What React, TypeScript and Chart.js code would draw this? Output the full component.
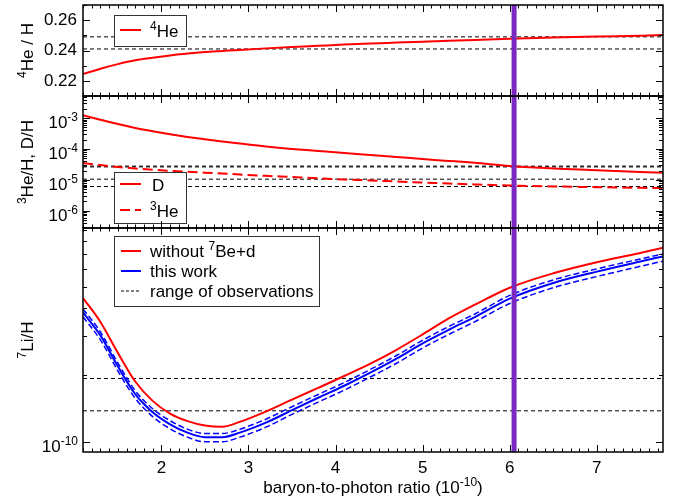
import { useEffect, useRef } from "react";
import { Chart, registerables } from "chart.js";

Chart.register(...registerables);

// ---------------- data ----------------
const ETA = [1.1, 1.3, 1.5, 1.7, 1.9, 2.1, 2.3, 2.5, 2.7, 2.9, 3.2, 3.5, 3.8, 4.1, 4.4, 4.7, 5.0, 5.3, 5.6, 6.0, 6.5, 7.0, 7.5, 7.76];

const HE4 = [0.2245, 0.228, 0.231, 0.2335, 0.2352, 0.2367, 0.238, 0.239, 0.2397, 0.2404, 0.2414, 0.2423, 0.2431, 0.2439, 0.2446, 0.2452, 0.2458, 0.2464, 0.247, 0.2477, 0.2485, 0.2492, 0.2498, 0.2502];

const D_H = [1.25e-3, 8.8e-4, 6.4e-4, 4.8e-4, 3.75e-4, 3.0e-4, 2.45e-4, 2.05e-4, 1.75e-4, 1.5e-4, 1.2e-4, 1.0e-4, 8.6e-5, 7.4e-5, 6.4e-5, 5.5e-5, 4.7e-5, 4.1e-5, 3.55e-5, 2.8e-5, 2.35e-5, 2.05e-5, 1.8e-5, 1.69e-5];

const HE3_H = [3.48e-5, 3.0e-5, 2.62e-5, 2.33e-5, 2.12e-5, 1.96e-5, 1.82e-5, 1.7e-5, 1.6e-5, 1.49e-5, 1.35e-5, 1.23e-5, 1.12e-5, 1.03e-5, 9.6e-6, 8.8e-6, 8.2e-6, 7.6e-6, 7.1e-6, 6.55e-6, 6.1e-6, 5.8e-6, 5.5e-6, 5.4e-6];

const LI7_NO_BED = [4.45e-10, 3.47e-10, 2.52e-10, 1.87e-10, 1.53e-10, 1.34e-10, 1.24e-10, 1.185e-10, 1.17e-10, 1.23e-10, 1.37e-10, 1.55e-10, 1.75e-10, 1.98e-10, 2.25e-10, 2.6e-10, 3.05e-10, 3.6e-10, 4.15e-10, 4.95e-10, 5.75e-10, 6.45e-10, 7.1e-10, 7.5e-10];

const LI7_THIS = [3.83e-10, 3.02e-10, 2.19e-10, 1.64e-10, 1.36e-10, 1.2e-10, 1.1e-10, 1.05e-10, 1.05e-10, 1.1e-10, 1.22e-10, 1.39e-10, 1.58e-10, 1.79e-10, 2.05e-10, 2.37e-10, 2.78e-10, 3.2e-10, 3.65e-10, 4.42e-10, 5.2e-10, 5.85e-10, 6.5e-10, 6.85e-10];

const LI7_UP = [3.97e-10, 3.13e-10, 2.27e-10, 1.7e-10, 1.41e-10, 1.245e-10, 1.14e-10, 1.09e-10, 1.09e-10, 1.14e-10, 1.265e-10, 1.44e-10, 1.635e-10, 1.85e-10, 2.12e-10, 2.45e-10, 2.87e-10, 3.31e-10, 3.77e-10, 4.57e-10, 5.37e-10, 6.02e-10, 6.67e-10, 7.02e-10];

const LI7_LO = [3.66e-10, 2.88e-10, 2.09e-10, 1.57e-10, 1.3e-10, 1.145e-10, 1.05e-10, 1.0e-10, 1.0e-10, 1.05e-10, 1.165e-10, 1.33e-10, 1.51e-10, 1.71e-10, 1.96e-10, 2.26e-10, 2.65e-10, 3.05e-10, 3.48e-10, 4.2e-10, 4.95e-10, 5.56e-10, 6.18e-10, 6.52e-10];

const HE4_OBS = [0.241, 0.249];
const DHE3_OBS = [2.62e-5, 2.78e-5, 1.05e-5, 6.07e-6];
const LI7_OBS = [1.38e-10, 1.93e-10];

const ETA_CMB = 6.05;
const X_MIN = 1.1;
const X_MAX = 7.76;
const X_TICKS = [2, 3, 4, 5, 6, 7];
const HE4_TICKS = [0.22, 0.24, 0.26];
const DHE3_TICKS = [1e-3, 1e-4, 1e-5, 1e-6];
const DHE3_EXP = ["-3", "-4", "-5", "-6"];
const LI7_TICKS = [1e-10];
const LI7_EXP = ["-10"];

// ---------------- style ----------------
const FONT = '"Liberation Sans", Arial, Helvetica, sans-serif';
const RED = "#ff0000";
const BLUE = "#0000ff";
const PURPLE = "#7a28c0";
const FS = 17;

type Part = { t: string; sup?: boolean };

function fontOf(size: number) {
  return `${size}px ${FONT}`;
}

function drawRich(ctx: CanvasRenderingContext2D, parts: Part[], x: number, baseline: number, size: number, align: "left" | "right" | "center") {
  const sup = Math.round(size * 0.68);
  let w = 0;
  for (const p of parts) {
    ctx.font = fontOf(p.sup ? sup : size);
    w += ctx.measureText(p.t).width;
  }
  let cx = align === "left" ? x : align === "right" ? x - w : x - w / 2;
  ctx.textAlign = "left";
  ctx.textBaseline = "alphabetic";
  ctx.fillStyle = "#000";
  for (const p of parts) {
    ctx.font = fontOf(p.sup ? sup : size);
    ctx.fillText(p.t, cx, p.sup ? baseline - size * 0.42 : baseline);
    cx += ctx.measureText(p.t).width;
  }
}

function curve(ys: number[], color: string, width: number, dash: number[] = []) {
  return {
    data: ETA.map((x, i) => ({ x, y: ys[i] })),
    borderColor: color,
    borderWidth: width,
    borderDash: dash,
    pointRadius: 0,
    fill: false,
    cubicInterpolationMode: "monotone" as const,
    clip: 0,
  };
}

function hline(v: number) {
  return {
    data: [{ x: X_MIN, y: v }, { x: X_MAX, y: v }],
    borderColor: "#000",
    borderWidth: 1,
    borderDash: [4, 3],
    pointRadius: 0,
    fill: false,
    tension: 0,
    clip: 0,
  };
}

function vline(y0: number, y1: number) {
  return {
    data: [{ x: ETA_CMB, y: y0 }, { x: ETA_CMB, y: y1 }],
    borderColor: PURPLE,
    borderWidth: 5,
    pointRadius: 0,
    fill: false,
    tension: 0,
    borderCapStyle: "butt" as const,
    clip: 0,
  };
}

type PanelCfg = {
  yTicks: { v: number; major: boolean }[];
  title: Part[];
  titleX: number;
  logLabels?: { v: number; exp: string }[];
  legend: (ctx: CanvasRenderingContext2D) => void;
  xTitle?: boolean;
};

function panelPlugin(cfg: PanelCfg) {
  return {
    id: "panel",
    afterDraw(chart: any) {
      const ctx: CanvasRenderingContext2D = chart.ctx;
      const a = chart.chartArea;
      const xs = chart.scales.x;
      const ys = chart.scales.y;
      ctx.save();
      // legend
      cfg.legend(ctx);
      // ticks
      ctx.strokeStyle = "#000";
      ctx.lineWidth = 1;
      ctx.setLineDash([]);
      ctx.beginPath();
      for (let k = 11; k <= 77; k++) {
        const v = k / 10;
        const px = Math.round(xs.getPixelForValue(v)) + 0.5;
        const len = k % 10 === 0 ? 7 : 3.5;
        ctx.moveTo(px, a.top);
        ctx.lineTo(px, a.top + len);
        ctx.moveTo(px, a.bottom);
        ctx.lineTo(px, a.bottom - len);
      }
      for (const t of cfg.yTicks) {
        const py = Math.round(ys.getPixelForValue(t.v)) + 0.5;
        if (py < a.top || py > a.bottom) continue;
        const len = t.major ? 7 : 4;
        ctx.moveTo(a.left, py);
        ctx.lineTo(a.left + len, py);
        ctx.moveTo(a.right, py);
        ctx.lineTo(a.right - len, py);
      }
      ctx.stroke();
      // frame
      ctx.lineWidth = 1.5;
      ctx.strokeRect(a.left, a.top, a.right - a.left, a.bottom - a.top);
      // log labels
      if (cfg.logLabels) {
        for (const l of cfg.logLabels) {
          const py = ys.getPixelForValue(l.v);
          drawRich(ctx, [{ t: "10" }, { t: l.exp, sup: true }], a.left - 5, py + 10, FS, "right");
        }
      }
      // y title
      ctx.save();
      ctx.translate(cfg.titleX, (a.top + a.bottom) / 2);
      ctx.rotate(-Math.PI / 2);
      drawRich(ctx, cfg.title, 0, FS * 0.36, FS, "center");
      ctx.restore();
      // x title
      if (cfg.xTitle) {
        drawRich(ctx, [{ t: "baryon-to-photon ratio (10" }, { t: "-10", sup: true }, { t: ")" }], (a.left + a.right) / 2, 493, FS, "center");
      }
      ctx.restore();
    },
  };
}

function legendBox(ctx: CanvasRenderingContext2D, x: number, y: number, w: number, h: number) {
  ctx.fillStyle = "#fff";
  ctx.fillRect(x, y, w, h);
  ctx.strokeStyle = "#333";
  ctx.lineWidth = 1;
  ctx.setLineDash([]);
  ctx.strokeRect(x + 0.5, y + 0.5, w, h);
}

function legendLine(ctx: CanvasRenderingContext2D, x0: number, x1: number, y: number, color: string, width: number, dash: number[]) {
  ctx.strokeStyle = color;
  ctx.lineWidth = width;
  ctx.setLineDash(dash);
  ctx.beginPath();
  ctx.moveTo(x0, y);
  ctx.lineTo(x1, y);
  ctx.stroke();
  ctx.setLineDash([]);
}

function xScale(display: boolean) {
  return {
    type: "linear" as const,
    min: X_MIN,
    max: X_MAX,
    display,
    grid: { display: false, drawTicks: false },
    border: { display: false },
    afterBuildTicks: (s: any) => {
      s.ticks = X_TICKS.map((v) => ({ value: v }));
    },
    afterFit: (s: any) => {
      s.height = display ? 49 : 0;
      s.paddingLeft = 0;
      s.paddingRight = 0;
      s.paddingTop = 0;
      s.paddingBottom = 0;
    },
    ticks: {
      font: { family: FONT, size: FS },
      color: "#000",
      padding: 6,
      maxRotation: 0,
      autoSkip: false,
      callback: (v: any) => String(v),
    },
  };
}

function yFit(s: any) {
  s.width = 83;
  s.paddingTop = 0;
  s.paddingBottom = 0;
  s.paddingLeft = 0;
  s.paddingRight = 0;
}

function baseOptions(pad: any, y: any, xDisplay: boolean) {
  return {
    responsive: false,
    maintainAspectRatio: false,
    animation: false as const,
    devicePixelRatio: 1,
    events: [] as any[],
    layout: { padding: pad },
    plugins: { legend: { display: false }, tooltip: { enabled: false } },
    scales: { x: xScale(xDisplay), y },
  };
}

function logTicks(lo: number, hi: number, dLo: number, dHi: number) {
  const out: { v: number; major: boolean }[] = [];
  for (let d = dLo; d <= dHi; d++) {
    for (let m = 1; m <= 9; m++) {
      const v = m * Math.pow(10, d);
      if (v >= lo && v <= hi) out.push({ v, major: m === 1 });
    }
  }
  return out;
}

function makeTop(canvas: HTMLCanvasElement) {
  const yMin = 0.21;
  const yMax = 0.27;
  const yTicks: { v: number; major: boolean }[] = [];
  for (let k = 21; k <= 27; k++) yTicks.push({ v: k / 100, major: k % 2 === 0 });
  return new Chart(canvas, {
    type: "line",
    data: {
      datasets: [vline(yMin, yMax), curve(HE4, RED, 2), ...HE4_OBS.map(hline)] as any,
    },
    options: baseOptions(
      { top: 5, bottom: 405, left: 0, right: 17 },
      {
        type: "linear",
        min: yMin,
        max: yMax,
        grid: { display: false, drawTicks: false },
        border: { display: false },
        afterBuildTicks: (s: any) => {
          s.ticks = HE4_TICKS.map((v) => ({ value: v }));
        },
        afterFit: yFit,
        ticks: {
          font: { family: FONT, size: FS },
          color: "#000",
          padding: 6,
          callback: (v: any) => Number(v).toFixed(2),
        },
      },
      false
    ) as any,
    plugins: [
      panelPlugin({
        yTicks,
        title: [{ t: "4", sup: true }, { t: "He / H" }],
        titleX: 27,
        legend: (ctx) => {
          legendBox(ctx, 114, 15, 72, 31);
          legendLine(ctx, 120, 141, 30, RED, 2, []);
          drawRich(ctx, [{ t: "4", sup: true }, { t: "He" }], 150, 37, FS, "left");
        },
      }),
    ],
  });
}

function makeMid(canvas: HTMLCanvasElement) {
  const yMin = 2.75e-7;
  const yMax = 5.2e-3;
  return new Chart(canvas, {
    type: "line",
    data: {
      datasets: [vline(yMin, yMax), curve(D_H, RED, 2), curve(HE3_H, RED, 2, [10, 5]), ...DHE3_OBS.map(hline)] as any,
    },
    options: baseOptions(
      { top: 96, bottom: 273, left: 0, right: 17 },
      {
        type: "logarithmic",
        min: yMin,
        max: yMax,
        grid: { display: false, drawTicks: false },
        border: { display: false },
        afterFit: yFit,
        ticks: { display: false },
      },
      false
    ) as any,
    plugins: [
      panelPlugin({
        yTicks: logTicks(yMin, yMax, -7, -3),
        title: [{ t: "3", sup: true }, { t: "He/H, D/H" }],
        titleX: 27,
        logLabels: DHE3_TICKS.map((v, i) => ({ v, exp: DHE3_EXP[i] })),
        legend: (ctx) => {
          legendBox(ctx, 114, 172, 72, 51);
          legendLine(ctx, 120, 141, 184, RED, 2, []);
          drawRich(ctx, [{ t: "D" }], 152, 191, FS, "left");
          legendLine(ctx, 120, 141, 210, RED, 2, [10, 5]);
          drawRich(ctx, [{ t: "3", sup: true }, { t: "He" }], 150, 217, FS, "left");
        },
      }),
    ],
  });
}

function makeBot(canvas: HTMLCanvasElement) {
  const yMin = 9e-11;
  const yMax = 9.2e-10;
  return new Chart(canvas, {
    type: "line",
    data: {
      datasets: [
        vline(yMin, yMax),
        curve(LI7_NO_BED, RED, 2),
        curve(LI7_THIS, BLUE, 2),
        curve(LI7_UP, BLUE, 1.5, [6, 3]),
        curve(LI7_LO, BLUE, 1.5, [6, 3]),
        ...LI7_OBS.map(hline),
      ] as any,
    },
    options: baseOptions(
      { top: 228, bottom: 0, left: 0, right: 17 },
      {
        type: "logarithmic",
        min: yMin,
        max: yMax,
        grid: { display: false, drawTicks: false },
        border: { display: false },
        afterFit: yFit,
        ticks: { display: false },
      },
      true
    ) as any,
    plugins: [
      panelPlugin({
        yTicks: logTicks(yMin, yMax, -11, -10),
        title: [{ t: "7", sup: true }, { t: "Li/H" }],
        titleX: 27,
        logLabels: LI7_TICKS.map((v, i) => ({ v, exp: LI7_EXP[i] })),
        xTitle: true,
        legend: (ctx) => {
          legendBox(ctx, 114, 236, 205, 70);
          legendLine(ctx, 121, 141, 251, RED, 2, []);
          drawRich(ctx, [{ t: "without " }, { t: "7", sup: true }, { t: "Be+d" }], 150, 257, FS, "left");
          legendLine(ctx, 121, 141, 271, BLUE, 2, []);
          drawRich(ctx, [{ t: "this work" }], 150, 277, FS, "left");
          legendLine(ctx, 121, 141, 291, "#000", 1, [3, 2]);
          drawRich(ctx, [{ t: "range of observations" }], 150, 297, FS, "left");
        },
      }),
    ],
  });
}

export default function App() {
  const r1 = useRef<HTMLCanvasElement>(null);
  const r2 = useRef<HTMLCanvasElement>(null);
  const r3 = useRef<HTMLCanvasElement>(null);

  useEffect(() => {
    const charts = [makeTop(r1.current!), makeMid(r2.current!), makeBot(r3.current!)];
    return () => charts.forEach((c) => c.destroy());
  }, []);

  const st: any = { position: "absolute", left: 0, top: 0, width: 680, height: 501 };
  return (
    <div style={{ position: "fixed", left: 0, top: 0, width: 680, height: 501, background: "#fff" }}>
      <canvas ref={r3} width={680} height={501} style={st} />
      <canvas ref={r2} width={680} height={501} style={st} />
      <canvas ref={r1} width={680} height={501} style={st} />
    </div>
  );
}
